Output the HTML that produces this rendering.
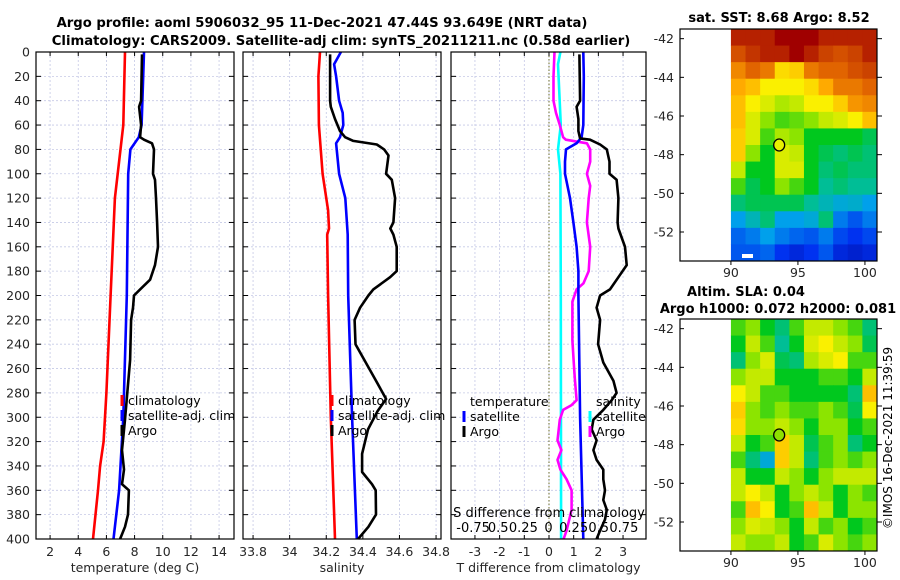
<!DOCTYPE html>
<html><head><meta charset="utf-8">
<style>
html,body{margin:0;padding:0;background:#fff;}
svg{display:block;font-family:"DejaVu Sans","Liberation Sans",sans-serif;}
</style></head>
<body>
<svg id="fig" width="900" height="580" viewBox="0 0 900 580" xmlns="http://www.w3.org/2000/svg">
<rect width="900" height="580" fill="#fff"/>
<text x="322" y="27" text-anchor="middle" font-size="13.2" font-weight="bold" fill="#000">Argo profile: aoml 5906032_95 11-Dec-2021 47.44S 93.649E (NRT data)</text>
<text x="341" y="45" text-anchor="middle" font-size="13.2" font-weight="bold" fill="#000">Climatology: CARS2009. Satellite-adj clim: synTS_20211211.nc (0.58d earlier)</text>
<g id="layer"></g>
</svg>
<script>
// ---------- Data ----------
const depthTicks=[0,20,40,60,80,100,120,140,160,180,200,220,240,260,280,300,320,340,360,380,400];
const tempTicks=[2,4,6,8,10,12,14];
const salTicks=[33.8,34,34.2,34.4,34.6,34.8];
const salTickLabels=["33.8","34","34.2","34.4","34.6","34.8"];
const tdiffTicks=[-3,-2,-1,0,1,2,3];
const sdiffTicks=[-0.75,-0.5,-0.25,0,0.25,0.5,0.75];
const sdiffTickLabels=["-0.75","0.5","0.25","0","0.25","0.5","0.75"];

const tempClimDepth=[0,60,120,200,280,320,340,360,400];
const tempClim=[7.32,7.2,6.6,6.3,6.0,5.8,5.55,5.4,5.05];
const tempSatDepth=[0,60,70,80,100,200,300,340,360,400];
const tempSat=[8.67,8.5,8.3,7.7,7.55,7.45,7.2,7.0,6.9,6.5];
const tempArgoDepth=[2,40,45,60,70,72,75,80,100,105,120,140,160,175,187,195,200,210,220,253,302,327,343,355,360,380,390,400];
const tempArgo=[8.53,8.46,8.32,8.46,8.39,8.67,9.24,9.38,9.31,9.45,9.52,9.6,9.66,9.45,9.1,8.39,7.96,7.89,7.75,7.68,7.32,7.11,7.25,7.11,7.6,7.53,7.32,6.97];

const salClimDepth=[0,20,60,100,130,145,150,200,300,400];
const salClim=[34.166,34.157,34.16,34.18,34.21,34.215,34.205,34.21,34.225,34.248];
const salSatDepth=[0,10,20,40,50,60,70,75,80,100,120,150,200,300,400];
const salSat=[34.28,34.243,34.254,34.27,34.29,34.293,34.275,34.254,34.257,34.27,34.304,34.317,34.32,34.341,34.367];
const salArgoDepth=[2,40,45,55,65,70,73,76,80,85,100,105,120,140,145,150,160,180,185,195,200,210,220,240,270,285,295,310,330,345,355,360,380,390,400];
const salArgo=[34.221,34.221,34.225,34.248,34.275,34.303,34.348,34.476,34.516,34.54,34.527,34.558,34.576,34.567,34.55,34.567,34.585,34.585,34.549,34.457,34.43,34.385,34.355,34.36,34.472,34.527,34.48,34.428,34.396,34.396,34.45,34.47,34.472,34.43,34.374];

const dTempSatDepth=[0,20,60,70,75,80,90,100,120,140,160,180,200,300,400];
const dTempSat=[1.39,1.41,1.39,1.32,1.12,0.69,0.65,0.65,0.85,0.99,1.12,1.19,1.19,1.26,1.39];
const dTempArgoDepth=[2,40,45,55,65,71,72,76,80,90,100,105,120,140,145,160,175,185,195,200,210,220,240,255,270,280,286,294,302,310,319,327,335,343,351,360,368,376,384,393,400];
const dTempArgo=[1.23,1.26,1.12,1.19,1.19,1.26,1.66,2.07,2.34,2.45,2.45,2.74,2.81,2.78,2.81,3.08,3.15,2.81,2.47,2.07,1.93,2.07,1.99,2.2,2.61,2.74,2.54,2.2,1.8,1.73,1.93,1.8,1.93,2.2,2.2,2.27,2.2,2.34,2.27,2.07,1.93];
const dSalSatDepth=[0,10,60,80,100,200,400];
const dSalSat=[0.118,0.095,0.122,0.095,0.118,0.122,0.125];
const dSalArgoDepth=[0,20,40,50,60,70,72,75,80,90,100,110,120,140,160,180,190,195,205,237,253,268,286,290,294,302,319,327,335,343,351,360,376,393,400];
const dSalArgo=[0.06,0.05,0.05,0.075,0.112,0.145,0.172,0.382,0.415,0.415,0.382,0.415,0.4,0.382,0.415,0.4,0.348,0.28,0.238,0.238,0.25,0.262,0.28,0.23,0.145,0.112,0.09,0.128,0.09,0.118,0.18,0.23,0.23,0.18,0.15];

const latTicks=[-42,-44,-46,-48,-50,-52];
const lonTicks=[90,95,100];
const sstGrid=[
[0.95,0.95,0.95,1,1,1,0.95,0.95,0.95,0.95],
[0.88,0.92,0.95,0.95,1,0.95,0.9,0.88,0.9,0.95],
[0.8,0.85,0.82,0.68,0.7,0.82,0.85,0.85,0.88,0.9],
[0.75,0.72,0.65,0.65,0.65,0.68,0.75,0.82,0.82,0.85],
[0.72,0.65,0.62,0.58,0.6,0.65,0.65,0.7,0.78,0.8],
[0.72,0.62,0.55,0.5,0.52,0.55,0.6,0.62,0.65,0.72],
[0.7,0.62,0.5,0.58,0.55,0.45,0.45,0.45,0.45,0.42],
[0.7,0.55,0.45,0.62,0.6,0.45,0.42,0.4,0.42,0.4],
[0.6,0.45,0.45,0.62,0.62,0.45,0.4,0.42,0.4,0.4],
[0.5,0.42,0.45,0.55,0.5,0.45,0.38,0.4,0.38,0.38],
[0.4,0.42,0.42,0.42,0.42,0.38,0.35,0.32,0.33,0.3],
[0.3,0.35,0.4,0.3,0.3,0.32,0.4,0.25,0.2,0.25],
[0.22,0.25,0.3,0.25,0.22,0.2,0.25,0.18,0.15,0.18],
[0.2,0.2,0.22,0.15,0.12,0.15,0.2,0.12,0.1,0.12]];
const slaGrid=[
[0.5,0.55,0.45,0.4,0.5,0.6,0.6,0.55,0.5,0.4],
[0.45,0.6,0.5,0.38,0.45,0.62,0.65,0.6,0.55,0.42],
[0.4,0.55,0.62,0.42,0.4,0.58,0.62,0.65,0.5,0.5],
[0.55,0.6,0.6,0.45,0.45,0.45,0.5,0.5,0.45,0.6],
[0.65,0.6,0.5,0.5,0.45,0.45,0.45,0.45,0.4,0.72],
[0.7,0.55,0.5,0.55,0.5,0.5,0.55,0.5,0.42,0.65],
[0.68,0.55,0.55,0.6,0.55,0.45,0.55,0.55,0.45,0.5],
[0.6,0.45,0.5,0.7,0.6,0.42,0.5,0.55,0.4,0.45],
[0.5,0.4,0.32,0.7,0.6,0.4,0.5,0.55,0.5,0.55],
[0.6,0.45,0.45,0.6,0.55,0.45,0.55,0.6,0.6,0.6],
[0.6,0.65,0.6,0.45,0.55,0.6,0.55,0.45,0.55,0.5],
[0.5,0.72,0.65,0.45,0.5,0.72,0.6,0.45,0.55,0.55],
[0.55,0.62,0.6,0.55,0.45,0.6,0.5,0.55,0.45,0.5],
[0.6,0.55,0.55,0.6,0.45,0.5,0.62,0.55,0.5,0.55]];
const argoLon=[93.6];
const argoLat=[-47.5];

// ---------- Helpers ----------
const NS="http://www.w3.org/2000/svg";
const layer=document.getElementById('layer');
function mk(tag,attrs,parent){const e=document.createElementNS(NS,tag);for(const k in attrs)e.setAttribute(k,attrs[k]);(parent||layer).appendChild(e);return e;}
function lin(d0,d1,r0,r1){return v=>r0+(v-d0)*(r1-r0)/(d1-d0);}
const Y0=52,Y1=539;
const yD=lin(0,400,Y0,Y1);

function panel(name,x0,x1,xdom,xticks,xlabels,xtitle,showY){
  const g=mk('g',{});
  
  
  const xs=lin(xdom[0],xdom[1],x0,x1);
  xticks.forEach(t=>{const l=mk('line',{x1:xs(t),x2:xs(t),y1:Y0,y2:Y1,stroke:'#c5c9e6','stroke-width':0.8,'stroke-dasharray':'2,2'},g);
    });
  depthTicks.forEach(t=>{const l=mk('line',{x1:x0,x2:x1,y1:yD(t),y2:yD(t),stroke:'#c5c9e6','stroke-width':0.8,'stroke-dasharray':'2,2'},g);
    });
  return {g,xs,x0,x1,xticks,xlabels,xtitle,showY,name};
}
function finishPanel(p){
  const g=mk('g',{});
  
  
  depthTicks.forEach(t=>{
    mk('line',{x1:p.x0,x2:p.x0+5,y1:yD(t),y2:yD(t),stroke:'#000','stroke-width':1},g);
    mk('line',{x1:p.x1-5,x2:p.x1,y1:yD(t),y2:yD(t),stroke:'#000','stroke-width':1},g);
    if(p.showY){const tx=mk('text',{x:p.x0-6,y:yD(t)+4.5,'text-anchor':'end','font-size':12.5,fill:'#262626'},g);tx.textContent=t;
      }
  });
  p.xticks.forEach((t,i)=>{
    mk('line',{x1:p.xs(t),x2:p.xs(t),y1:Y1,y2:Y1-4,stroke:'#000','stroke-width':1},g);
    mk('line',{x1:p.xs(t),x2:p.xs(t),y1:Y0,y2:Y0+4,stroke:'#000','stroke-width':1},g);
    const tx=mk('text',{x:p.xs(t),y:556,'text-anchor':'middle','font-size':12.5,fill:'#262626'},g);tx.textContent=p.xlabels[i];
    
  });
  const fr=mk('rect',{x:p.x0,y:Y0,width:p.x1-p.x0,height:Y1-Y0,fill:'none',stroke:'#000','stroke-width':1.2},g);
  
  const tt=mk('text',{x:(p.x0+p.x1)/2,y:572,'text-anchor':'middle','font-size':12.5,fill:'#262626'},g);tt.textContent=p.xtitle;
  
}
function series(p,xs,vals,depths,color,name){
  const pts=vals.map((v,i)=>xs(v).toFixed(1)+','+yD(depths[i]).toFixed(1)).join(' ');
  const l=mk('polyline',{points:pts,fill:'none',stroke:color,'stroke-width':2.6,'stroke-linejoin':'round'},p.g);
  
  
}
function legend(g,items,x,y,name){
  const lg=mk('g',{},g);
  
  
  items.forEach((it,i)=>{
    const yy=y+i*15;
    mk('line',{x1:x,x2:x,y1:yy-10,y2:yy+1,stroke:it[1],'stroke-width':3},lg);
    const t=mk('text',{x:x+6,y:yy,'font-size':12.5,fill:'#000'},lg);t.textContent=it[0];
    
  });
}

// Panel 1
const p1=panel('temperature-panel',36,234,[1,15.06],tempTicks,tempTicks.map(String),'temperature (deg C)',true);
series(p1,p1.xs,tempClim,tempClimDepth,'#ff0000','temp-climatology-line');
series(p1,p1.xs,tempSat,tempSatDepth,'#0000ff','temp-satellite-line');
series(p1,p1.xs,tempArgo,tempArgoDepth,'#000','temp-argo-line');
legend(p1.g,[['climatology','#ff0000'],['satellite-adj. clim','#0000ff'],['Argo','#000']],122,405,'temperature-legend');
finishPanel(p1);

// Panel 2
const p2=panel('salinity-panel',243,441,[33.745,34.827],salTicks,salTickLabels,'salinity',false);
series(p2,p2.xs,salClim,salClimDepth,'#ff0000','sal-climatology-line');
series(p2,p2.xs,salSat,salSatDepth,'#0000ff','sal-satellite-line');
series(p2,p2.xs,salArgo,salArgoDepth,'#000','sal-argo-line');
legend(p2.g,[['climatology','#ff0000'],['satellite-adj. clim','#0000ff'],['Argo','#000']],332,405,'salinity-legend');
finishPanel(p2);

// Panel 3
const p3=panel('difference-panel',451,646,[-3.97,3.93],tdiffTicks,tdiffTicks.map(String),'T difference from climatology',false);
const sx=lin(-0.97,0.97,451,646);
const zl=mk('line',{x1:p3.xs(0),x2:p3.xs(0),y1:Y0,y2:Y1,stroke:'#6b6b2a','stroke-width':1,'stroke-dasharray':'1.5,2'},p3.g);

series(p3,sx,dSalSat,dSalSatDepth,'#00ffff','sdiff-satellite-line');
series(p3,sx,dSalArgo,dSalArgoDepth,'#ff00ff','sdiff-argo-line');
series(p3,p3.xs,dTempSat,dTempSatDepth,'#0000ff','tdiff-satellite-line');
series(p3,p3.xs,dTempArgo,dTempArgoDepth,'#000','tdiff-argo-line');
{const t=mk('text',{x:470,y:406,'font-size':12.5,fill:'#000'},p3.g);t.textContent='temperature';
 
 const s=mk('text',{x:596,y:406,'font-size':12.5,fill:'#000'},p3.g);s.textContent='salinity';
 }
legend(p3.g,[['satellite','#0000ff'],['Argo','#000']],464,421,'tdiff-legend');
legend(p3.g,[['satellite','#00ffff'],['Argo','#ff00ff']],590,421,'sdiff-legend');
{const t=mk('text',{x:549,y:517,'text-anchor':'middle','font-size':13,fill:'#000'},p3.g);t.textContent='S difference from climatology';
 
 sdiffTicks.forEach((v,i)=>{const tx=mk('text',{x:sx(v),y:532,'text-anchor':'middle','font-size':13,fill:'#000'},p3.g);tx.textContent=sdiffTickLabels[i];
 });}
finishPanel(p3);

// ---------- Maps ----------
const cmapStops=[[0,[0,0,140]],[0.15,[0,50,240]],[0.3,[0,160,235]],[0.38,[0,190,150]],[0.45,[0,200,30]],[0.55,[140,228,0]],[0.65,[250,240,0]],[0.75,[255,170,0]],[0.85,[225,100,0]],[1,[160,0,0]]];
function cmap(v){
  for(let i=1;i<cmapStops.length;i++){
    if(v<=cmapStops[i][0]){const a=cmapStops[i-1],b=cmapStops[i];const f=(v-a[0])/(b[0]-a[0]);
      return 'rgb('+a[1].map((c,k)=>Math.round(c+(b[1][k]-c)*f)).join(',')+')';}
  }
  return 'rgb(160,0,0)';
}
function mapPanel(name,top,grid,dot){
  const g=mk('g',{});
  
  
  const ax0=680,ax1=877,ay0=top,ay1=top+232;
  const xl=lin(86.2,100.9,ax0,ax1), yl=lin(-41.5,-53.5,ay0,ay1);
  const nr=grid.length,nc=grid[0].length;
  const lon0=90,lon1=100.9,lat0=-41.5,lat1=-53.5;
  grid.forEach((row,r)=>row.forEach((v,c)=>{
    const xA=xl(lon0+(lon1-lon0)*c/nc),xB=xl(lon0+(lon1-lon0)*(c+1)/nc);
    const yA=yl(lat0+(lat1-lat0)*r/nr),yB=yl(lat0+(lat1-lat0)*(r+1)/nr);
    const rc=mk('rect',{x:xA,y:yA,width:xB-xA+0.5,height:yB-yA+0.5,fill:cmap(v)},g);
    
    
  }));
  latTicks.forEach(t=>{
    mk('line',{x1:ax0,x2:ax0+4,y1:yl(t),y2:yl(t),stroke:'#000'},g);
    mk('line',{x1:ax1,x2:ax1+5,y1:yl(t),y2:yl(t),stroke:'#000'},g);
    const tx=mk('text',{x:ax0-6,y:yl(t)+4.5,'text-anchor':'end','font-size':12.5,fill:'#262626'},g);tx.textContent=t;
    
  });
  lonTicks.forEach(t=>{
    mk('line',{x1:xl(t),x2:xl(t),y1:ay1,y2:ay1+4,stroke:'#000'},g);
    const tx=mk('text',{x:xl(t),y:ay1+16,'text-anchor':'middle','font-size':12.5,fill:'#262626'},g);tx.textContent=t;
    
  });
  argoLon.forEach((lo,i)=>{
    const c=mk('ellipse',{cx:xl(lo),cy:yl(argoLat[i]),rx:5.5,ry:6,fill:dot,stroke:'#000','stroke-width':1.3},g);
    
  });
  const fr=mk('rect',{x:ax0,y:ay0,width:ax1-ax0,height:ay1-ay0,fill:'none',stroke:'#000','stroke-width':1.2},g);
  
  return {g,xl,yl};
}
const m1=mapPanel('sst-map',29,sstGrid,'#e8f000');
{const r=mk('rect',{x:742,y:254,width:11,height:4,fill:'#fff'},m1.g);}
const m2=mapPanel('sla-map',319,slaGrid,'#8ee000');
function ttl(txt,x,y,name){const t=mk('text',{x:x,y:y,'text-anchor':'middle','font-size':13,'font-weight':'bold',fill:'#000'});t.textContent=txt;
  }
ttl('sat. SST: 8.68 Argo: 8.52',779,22,'sst-map-title');
ttl('Altim. SLA: 0.04',746,296,'sla-map-title');
ttl('Argo h1000: 0.072 h2000: 0.081',778,313,'steric-height-title');
{const t=mk('text',{x:0,y:0,'text-anchor':'middle','font-size':12,fill:'#000',transform:'translate(892,438) rotate(-90)'});
 t.textContent='\u00A9IMOS 16-Dec-2021 11:39:59';
 }
</script>
</body></html>
